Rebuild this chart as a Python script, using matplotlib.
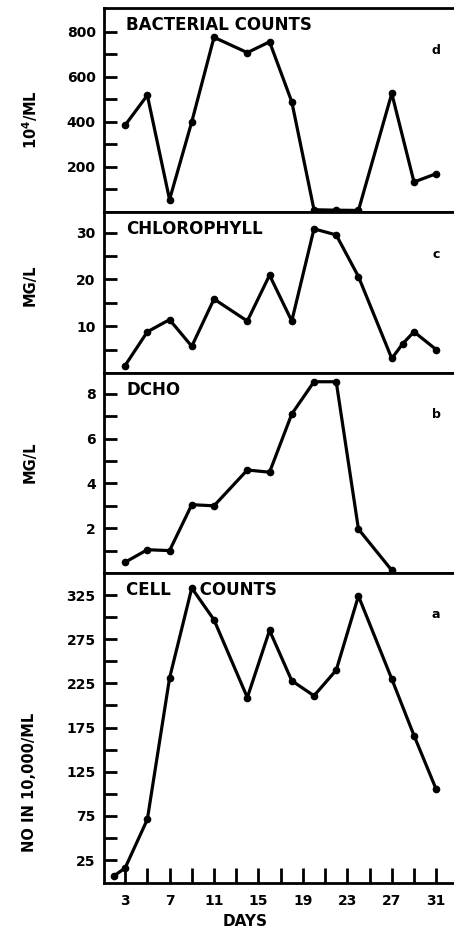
import matplotlib
matplotlib.use("Agg")
import matplotlib.pyplot as plt
from matplotlib.ticker import FixedLocator, NullFormatter

plt.rcParams['font.family'] = ['DejaVu Sans']
plt.rcParams['font.weight'] = 'bold'

# ---- data ----
bact_days = [3, 5, 7, 9, 11, 14, 16, 18, 20, 22, 24, 27, 29, 31]
bact_vals = [385, 518, 55, 400, 775, 707, 755, 489, 10, 8, 7, 526, 133, 170]

chl_days = [3, 5, 7, 9, 11, 14, 16, 18, 20, 22, 24, 27, 28, 29, 31]
chl_vals = [1.6, 8.8, 11.4, 5.7, 15.8, 11.1, 20.9, 11.1, 30.8, 29.5, 20.6, 3.1, 6.3, 8.8, 5.0]

dcho_days = [3, 5, 7, 9, 11, 14, 16, 18, 20, 22, 24, 27]
dcho_vals = [0.48, 1.04, 1.0, 3.05, 3.0, 4.6, 4.5, 7.1, 8.54, 8.54, 1.96, 0.12]

cell_days = [2, 3, 5, 7, 9, 11, 14, 16, 18, 20, 22, 24, 27, 29, 31]
cell_vals = [7, 16, 71, 231, 333, 297, 209, 285, 228, 211, 240, 324, 230, 166, 105]

day_major = [3, 7, 11, 15, 19, 23, 27, 31]
day_minor = [5, 9, 13, 17, 21, 25, 29]

W, H = 454, 935
fig = plt.figure(figsize=(W / 100, H / 100), dpi=100)

left = 104 / W
right = 1.0
panels = [  # (top px, bottom px)
    (8, 212), (212, 373), (373, 573), (573, 883)
]
axes = []
for top, bot in panels:
    ax = fig.add_axes([left, 1 - bot / H, right - left, (bot - top) / H])
    axes.append(ax)

ax1, ax2, ax3, ax4 = axes

specs = [
    (ax1, bact_days, bact_vals, (0, 905), list(range(100, 900, 100)), [200, 400, 600, 800],
     "BACTERIAL COUNTS", "d", "10$^4$/ML", 120),
    (ax2, chl_days, chl_vals, (0, 34.4), [5, 10, 15, 20, 25, 30], [10, 20, 30],
     "CHLOROPHYLL", "c", "MG/L", 285),
    (ax3, dcho_days, dcho_vals, (0, 8.93), [1, 2, 3, 4, 5, 6, 7, 8], [2, 4, 6, 8],
     "DCHO", "b", "MG/L", 462),
    (ax4, cell_days, cell_vals, (-1, 350), list(range(25, 350, 25)), [25, 75, 125, 175, 225, 275, 325],
     "CELL     COUNTS", "a", "NO IN 10,000/ML", 782),
]

for (ax, xs, ys, ylim, yticks, ylabels, title, letter, ylab, ylab_y), (top, bot) in zip(specs, panels):
    ax.plot(xs, ys, color='black', lw=2.3, marker='o', ms=4.5, mfc='black', mec='black')
    ax.set_xlim(1.1, 32.6)
    ax.set_ylim(*ylim)
    ax.yaxis.set_major_locator(FixedLocator(yticks))
    ax.set_yticklabels([str(t) if t in ylabels else "" for t in yticks])
    ax.tick_params(axis='y', direction='in', length=9, width=2, pad=6,
                   labelsize=10, left=True, right=False)
    for lab in ax.get_yticklabels():
        lab.set_fontweight('bold')
    ax.spines['right'].set_visible(False)
    for s in ['left', 'bottom', 'top']:
        ax.spines[s].set_linewidth(2)
    ax.text((126 - 104) / 350, 1 - 17 / (bot - top), title, transform=ax.transAxes,
            ha='left', va='center', fontsize=12, fontweight='bold')
    ax.text((436 - 104) / 350, 1 - 42 / (bot - top), letter, transform=ax.transAxes,
            ha='center', va='center', fontsize=9, fontweight='bold')
    ax.set_ylabel(ylab, fontsize=10.5, fontweight='bold', va='center')
    ax.yaxis.set_label_coords((30 - 104) / 350, (bot - ylab_y) / (bot - top))
    if ax is not ax4:
        ax.set_xticks([])

ax4.xaxis.set_major_locator(FixedLocator(day_major))
ax4.xaxis.set_minor_locator(FixedLocator(day_minor))
ax4.xaxis.set_minor_formatter(NullFormatter())
ax4.set_xticklabels([str(d) for d in day_major])
ax4.tick_params(axis='x', which='both', direction='in', length=11, width=2, pad=8,
                labelsize=10, top=False)
for lab in ax4.get_xticklabels():
    lab.set_fontweight('bold')
ax4.set_xlabel("DAYS", fontsize=11, fontweight='bold')
ax4.xaxis.set_label_coords((245 - 104) / 350, (883 - 922) / 310)
ax4.xaxis.label.set_va('center')

fig.savefig("out.png", dpi=100)
